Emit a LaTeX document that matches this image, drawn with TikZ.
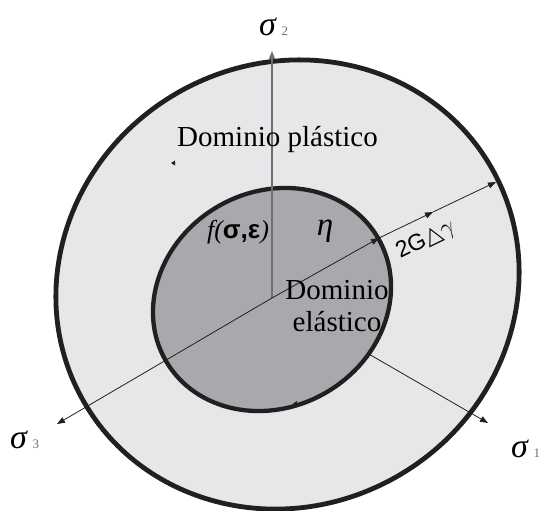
\documentclass[tikz,border=0pt]{standalone}
\usepackage{fontspec}
\setmainfont{Liberation Serif}
\setsansfont{Liberation Sans}
\newfontfamily\symbfont{DejaVu Sans}
\usetikzlibrary{arrows.meta,positioning}
\definecolor{plastgray}{HTML}{E6E7E8}
\definecolor{elastgray}{HTML}{A7A9AC}
\definecolor{inkblack}{HTML}{231F20}
\definecolor{axisgray}{HTML}{6D6E71}
\tikzset{
  >={Triangle[length=8pt,width=6pt]},
  axis/.style={->,draw=inkblack,line width=0.8pt},
  siglabel/.style={inner sep=0pt,font=\fontsize{34}{34}\selectfont\itshape},
  domlabel/.style={inner sep=0pt,align=center,font=\fontsize{29}{31.5}\selectfont},
}
\newcommand{\axsub}[1]{\,{\color{axisgray}\fontsize{13}{13}\selectfont\upshape #1}}

\begin{document}
\begin{tikzpicture}[x=1pt,y=-1pt]
\useasboundingbox (0,0) rectangle (546,511);
\coordinate (co) at (287.5,284.5);
\coordinate (ci) at (272,299.5);
\coordinate (O) at (272,298);
\coordinate (t1) at (488,423);
\coordinate (t2) at (272,51);
\coordinate (t3) at (57,424);
\coordinate (P) at (379,238);
\coordinate (M) at (433,212);
\coordinate (Q) at (496,182);

\draw[draw=inkblack,fill=plastgray,line width=4.8pt,rotate around={30:(co)}]
  (co) ellipse [x radius=235, y radius=221];
\draw[axis] (O) -- (t1);
\draw[draw=inkblack,fill=elastgray,line width=4.3pt,rotate around={30:(ci)}]
  (ci) ellipse [x radius=122.6, y radius=107.6];

\draw[axis,draw=axisgray,line width=1.1pt] (O) -- (t2);
\draw[axis] (O) -- (t3);
\draw[axis] (O) -- (P);
\draw[axis] (P) -- (M);
\draw[axis] (M) -- (Q);
\fill[inkblack] (171,163) -- (175,160.5) -- (175,165.5) -- cycle;
\fill[inkblack] (297,401) -- (293,403.5) -- (297,405) -- cycle;

\node[siglabel,anchor=base west] (s2) at (259,36) {σ\axsub{2}};
\node[siglabel,anchor=base west] (s3) at (10,448) {σ\axsub{3}};
\node[siglabel,anchor=base west] (s1) at (511,457) {σ\axsub{1}};

\node[domlabel,anchor=base] (plast) at (277.5,146) {Dominio plástico};
\node[domlabel,anchor=center] (elast) at (337,306) {Dominio\\elástico};

\node[inner sep=0pt] (fse) at (238,232)
  {\fontsize{26}{26}\selectfont\itshape f(\textbf{\sffamily\upshape σ,ε})};
\node[inner sep=0pt,font=\fontsize{33}{33}\selectfont\itshape] (eta) at (325,231) {η};
\node[inner sep=0pt,rotate=26] (dg) at (426,240)
  {\fontsize{23}{23}\selectfont\sffamily 2G{\symbfont △}$\gamma$};
\end{tikzpicture}
\end{document}
